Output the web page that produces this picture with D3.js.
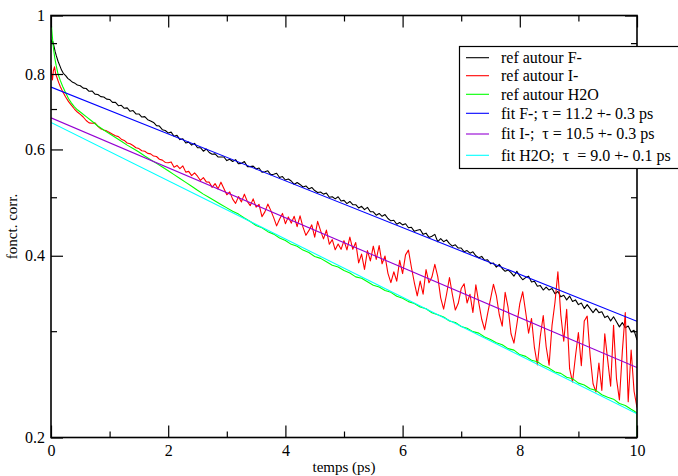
<!DOCTYPE html>
<html><head><meta charset="utf-8">
<script src="https://cdn.jsdelivr.net/npm/d3@7"></script>
<style>
body{margin:0;background:#fff}
text{font-family:"Liberation Serif","Times New Roman",serif;fill:#000}
</style>
</head><body>
<svg id="chart" width="678" height="476"></svg>
<script>
// ---------------- DATA ----------------
const xTicks = [0, 2, 4, 6, 8, 10];
const xTickLabels = ["0", "2", "4", "6", "8", "10"];
const xMinorTicks = [1, 3, 5, 7, 9];
const yTicks = [0.2, 0.4, 0.6, 0.8, 1];
const yTickLabels = ["0.2", "0.4", "0.6", "0.8", "1"];
const yMinorTicks = [0.3, 0.5, 0.7, 0.9];

const seriesNames = ["ref autour F-", "ref autour I-", "ref autour H2O",
  "fit F-; \u03c4 = 11.2 +- 0.3 ps", "fit I-;  \u03c4 = 10.5 +- 0.3 ps", "fit H2O;  \u03c4  = 9.0 +- 0.1 ps"];
const seriesColors = ["#000000", "#ff0000", "#00ff00", "#0000ff", "#9400d3", "#00ffff"];

// common time grids for the late parts (ps)
const tFine = d3.range(161).map(i => +(2 + i * 0.05).toFixed(2));   // 2.00 .. 10.00
const tCoarse = d3.range(80).map(i => +(2 + i * 0.1).toFixed(1));   // 2.0 .. 9.9

// ref autour F- (black)
const fEarlyT = [0, 0.02, 0.03, 0.05, 0.07, 0.09, 0.12, 0.15, 0.18, 0.21, 0.25, 0.29, 0.33, 0.37, 0.41, 0.45, 0.5, 0.55, 0.6, 0.65, 0.7, 0.75, 0.8, 0.85, 0.9, 0.95, 1.0, 1.05, 1.1, 1.15, 1.2, 1.25, 1.3, 1.35, 1.4, 1.45, 1.5, 1.55, 1.6, 1.65, 1.7, 1.75, 1.8, 1.85, 1.9, 1.95];
const fEarlyV = [.912, .900, .906, .890, .872, .858, .840, .826, .812, .802, .795, .786, .781, .775, .772, .767, .765, .758, .757, .749, .750, .741, .740, .734, .733, .727, .726, .718, .718, .709, .710, .702, .703, .694, .696, .687, .687, .679, .680, .672, .669, .665, .657, .656, .647, .645];
const fLateV = [
  .639,.641,.631,.633,.623,.625,.615,.617,.610,.614,
  .604,.604,.596,.601,.593,.589,.590,.583,.583,.583,
  .575,.578,.573,.577,.568,.569,.573,.562,.562,.563,
  .557,.559,.550,.551,.553,.545,.546,.548,.539,.541,
  .534,.536,.532,.525,.529,.525,.520,.522,.516,.519,
  .513,.509,.510,.506,.508,.500,.501,.497,.501,.493,
  .494,.488,.492,.486,.486,.480,.483,.477,.481,.473,
  .473,.467,.470,.465,.468,.461,.457,.458,.451,.454,
  .450,.452,.445,.446,.439,.441,.442,.434,.436,.429,
  .431,.434,.422,.427,.422,.425,.419,.415,.417,.412,
  .412,.406,.408,.404,.406,.400,.397,.399,.393,.394,
  .388,.389,.383,.387,.381,.377,.379,.375,.370,.377,
  .370,.365,.368,.370,.362,.363,.356,.357,.351,.355,
  .351,.353,.346,.349,.342,.344,.338,.343,.336,.338,
  .332,.334,.327,.332,.327,.322,.327,.322,.323,.316,
  .318,.312,.317,.311,.305,.310,.304,.306,.299,.301,
  .290];

// ref autour I- (red)
const iEarlyT = [0, 0.01, 0.025, 0.04, 0.06, 0.08, 0.1, 0.13, 0.16, 0.2, 0.25, 0.3, 0.35, 0.4, 0.45, 0.5, 0.55, 0.6, 0.65, 0.7, 0.75, 0.8, 0.85, 0.9, 0.95, 1.0, 1.05, 1.1, 1.15, 1.2, 1.25, 1.3, 1.35, 1.4, 1.45, 1.5, 1.55, 1.6, 1.65, 1.7, 1.75, 1.8, 1.85, 1.9, 1.95];
const iEarlyV = [.828, .800, .782, .810, .822, .800, .790, .775, .762, .748, .733, .720, .710, .700, .692, .686, .679, .670, .664, .663, .664, .655, .649, .646, .644, .640, .636, .632, .630, .624, .621, .615, .613, .609, .604, .602, .597, .596, .591, .590, .585, .584, .578, .576, .571];
const iLateV = [
  .5704,.5721,.5608,.5645,.5577,.5635,.5503,.5518,.5429,.5486,
  .5418,.5331,.5388,.5302,.5296,.5192,.5267,.5162,.5296,.5171,
  .5048,.5103,.4964,.4885,.5012,.4912,.5059,.4922,.4842,.4969,
  .4814,.4866,.4644,.4729,.4871,.4756,.4626,.4483,.4599,.4701,
  .4520,.4639,.4530,.4649,.4470,.4658,.4462,.4324,.4402,.4500,
  .4294,.4561,.4403,.4267,.4412,.4179,.4254,.4092,.4182,.4099,
  .4237,.4091,.4295,.4100,.4207,.3893,.4025,.3798,.4079,.3923,
  .4149,.3945,.4158,.3879,.3996,.3741,.3611,.3763,.3631,.3931,
  .3737,.4014,.4087,.3828,.3612,.3433,.3632,.3454,.3795,.3608,
  .3687,.3871,.3694,.3407,.3264,.3454,.3682,.3447,.3252,.3337,
  .3530,.3595,.3341,.3454,.3221,.3581,.3341,.3140,.3018,.3205,
  .3391,.3588,.3437,.3194,.3059,.3480,.3284,.2971,.2867,.3080,
  .3333,.3487,.3228,.2977,.3149,.2817,.2637,.2943,.3184,.2827,
  .2636,.3068,.3347,.3764,.3191,.2887,.3260,.2600,.2471,.2726,
  .2985,.2630,.3119,.3177,.2734,.2455,.2379,.2656,.2393,.2971,
  .2687,.2432,.3067,.2503,.2308,.2780,.3222,.2292,.2792,.2386,
  .2242];

// ref autour H2O (green)
const hEarlyT = [0, 0.005, 0.02, 0.035, 0.05, 0.065, 0.09, 0.12, 0.16, 0.2, 0.25, 0.3, 0.35, 0.4, 0.45, 0.5, 0.6, 0.7, 0.8, 0.9, 1.0, 1.1, 1.2, 1.3, 1.4, 1.5, 1.6, 1.7, 1.8, 1.9];
const hEarlyV = [1.0, .970, .930, .895, .870, .850, .825, .800, .780, .763, .745, .728, .716, .706, .698, .692, .680, .668, .656, .646, .637, .628, .619, .610, .602, .594, .585, .577, .569, .561];
const hLateV = [
  .5533,.5451,.5372,.5292,.5213,.5134,.5060,.4994,.4930,.4865,
  .4801,.4740,.4689,.4619,.4559,.4490,.4450,.4385,.4344,.4280,
  .4240,.4178,.4148,.4087,.4049,.3988,.3960,.3910,.3859,.3831,
  .3780,.3746,.3690,.3671,.3622,.3575,.3550,.3504,.3479,.3427,
  .3401,.3358,.3334,.3291,.3267,.3218,.3195,.3166,.3119,.3102,
  .3055,.3033,.2995,.2978,.2934,.2906,.2870,.2849,.2807,.2791,
  .2744,.2725,.2685,.2670,.2631,.2606,.2568,.2554,.2517,.2503,
  .2461,.2443,.2408,.2394,.2354,.2332,.2315,.2277,.2260,.2227];
const hEndT = [9.95, 10, 10];
const hEndV = [.2213, .2195, .2];

// fits (straight lines on the log axis)
const fitT = [0, 10];
const fitFV = [0.761, 0.3116];
const fitIV = [0.677, 0.2612];
const fitHV = [0.665, 0.2189];

// ---------------- DRAWING ----------------
const zip = (t, v) => t.map((d, i) => [d, v[i]]);
const seriesData = [
  zip(fEarlyT, fEarlyV).concat(zip(tFine, fLateV)),
  zip(iEarlyT, iEarlyV).concat(zip(tFine, iLateV)),
  zip(hEarlyT, hEarlyV).concat(zip(tCoarse, hLateV)).concat(zip(hEndT, hEndV)),
  zip(fitT, fitFV),
  zip(fitT, fitIV),
  zip(fitT, fitHV)
];

const L = 51, R = 637, T = 15.5, B = 437.5;
const svg = d3.select("#chart");
svg.append("rect").attr("width", 678).attr("height", 476).attr("fill", "#fff");

const x = d3.scaleLinear().domain([0, 10]).range([L, R]);
const y = d3.scaleLog().domain([0.2, 1]).range([B, T]);

svg.append("clipPath").attr("id", "clip")
  .append("rect").attr("x", L).attr("y", T).attr("width", R - L).attr("height", B - T);

const line = d3.line().x(d => x(d[0])).y(d => y(d[1]));
const plot = svg.append("g").attr("clip-path", "url(#clip)");
seriesData.forEach((d, i) => {
  plot.append("path").datum(d).attr("d", line)
    .attr("fill", "none").attr("stroke", seriesColors[i])
    .attr("stroke-width", 1.1).attr("stroke-linejoin", "round");
});

// axes (inward ticks on all four sides)
function styleAxis(g) {
  g.select(".domain").remove();
  g.selectAll(".tick line").attr("stroke", "#000").attr("stroke-width", 1.2);
  g.selectAll(".tick text").attr("font-size", 16).attr("font-family", "Liberation Serif, serif").attr("fill", "#000");
}
svg.append("g").attr("transform", `translate(0,${B})`)
  .call(d3.axisBottom(x).tickValues(xTicks).tickSize(-12).tickPadding(7).tickFormat((d, i) => xTickLabels[i]))
  .call(styleAxis);
svg.append("g").attr("transform", `translate(0,${B})`)
  .call(d3.axisBottom(x).tickValues(xMinorTicks).tickSize(-6).tickFormat(""))
  .call(styleAxis);
svg.append("g").attr("transform", `translate(0,${T})`)
  .call(d3.axisTop(x).tickValues(xTicks).tickSize(-12).tickFormat(""))
  .call(styleAxis);
svg.append("g").attr("transform", `translate(0,${T})`)
  .call(d3.axisTop(x).tickValues(xMinorTicks).tickSize(-6).tickFormat(""))
  .call(styleAxis);
svg.append("g").attr("transform", `translate(${L},0)`)
  .call(d3.axisLeft(y).tickValues(yTicks).tickSize(-12).tickPadding(6).tickFormat((d, i) => yTickLabels[i]))
  .call(styleAxis);
svg.append("g").attr("transform", `translate(${L},0)`)
  .call(d3.axisLeft(y).tickValues(yMinorTicks).tickSize(-6).tickFormat(""))
  .call(styleAxis);
svg.append("g").attr("transform", `translate(${R},0)`)
  .call(d3.axisRight(y).tickValues(yTicks).tickSize(-12).tickFormat(""))
  .call(styleAxis);
svg.append("g").attr("transform", `translate(${R},0)`)
  .call(d3.axisRight(y).tickValues(yMinorTicks).tickSize(-6).tickFormat(""))
  .call(styleAxis);

// frame
svg.append("rect").attr("x", L).attr("y", T).attr("width", R - L).attr("height", B - T)
  .attr("fill", "none").attr("stroke", "#000").attr("stroke-width", 1.6);

// axis titles
svg.append("text").attr("x", (L + R) / 2).attr("y", 472).attr("text-anchor", "middle")
  .attr("font-size", 15).text("temps (ps)");
svg.append("text").attr("transform", `translate(17,${(T + B) / 2}) rotate(-90)`)
  .attr("text-anchor", "middle").attr("font-size", 15).text("fonct. corr.");

// legend
const lg = svg.append("g");
lg.append("rect").attr("x", 459.5).attr("y", 46.5).attr("width", 240).attr("height", 122)
  .attr("fill", "#fff").attr("stroke", "#000").attr("stroke-width", 1.2);
const rowY = [57.7, 75.7, 94.3, 113.3, 134, 155.3];
seriesNames.forEach((name, i) => {
  lg.append("line").attr("x1", 466).attr("x2", 489).attr("y1", rowY[i]).attr("y2", rowY[i])
    .attr("stroke", seriesColors[i]).attr("stroke-width", 1.1);
  lg.append("text").attr("x", 501).attr("y", rowY[i]).attr("dy", "0.33em")
    .attr("font-size", 16).style("white-space", "pre").text(name);
});
</script>
</body></html>
